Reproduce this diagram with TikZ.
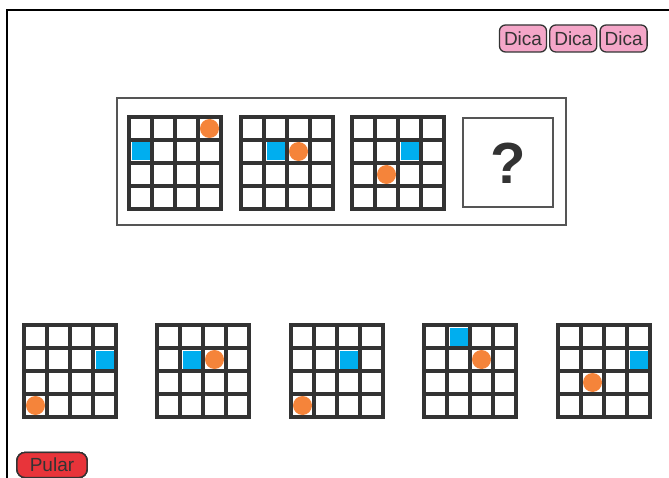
\documentclass[tikz,border=0pt]{standalone}
\usepackage{fontspec}
\setmainfont{Liberation Sans}
\usepackage{xcolor}
\usetikzlibrary{positioning}
\definecolor{gridgray}{HTML}{333333}
\definecolor{framegray}{HTML}{555555}
\definecolor{tileblue}{HTML}{00AEEF}
\definecolor{dotorange}{HTML}{F5843A}
\definecolor{hintpink}{HTML}{F4A6C8}
\definecolor{skipred}{HTML}{E8343A}
% grid: top-left x, y; blue row, col; orange row, col
\newcommand{\cellgrid}[6]{%
  \begin{scope}[shift={(#1,#2)}]
    \fill[tileblue] ({#4*23+2.5},{#3*23+2.5}) rectangle ++(18,18);
    \foreach \k in {1,2,3}
      \draw[gridgray, line width=3.6pt] (\k*23,0) -- (\k*23,92) (0,\k*23) -- (92,\k*23);
    \draw[gridgray, line width=3.6pt] (0,0) rectangle (92,92);
    \fill[dotorange] ({#6*23+11.5},{#5*23+11.5}) circle[radius=9.5pt];
  \end{scope}}

\begin{document}
\begin{tikzpicture}[x=1pt, y=-1pt,
    btn/.style={draw=gridgray, line width=1.3pt, rounded corners=6pt, inner sep=0pt,
      text=gridgray, font=\fontsize{19}{19}\selectfont}]
  \useasboundingbox (0,0) rectangle (669,478);
  \draw[line width=1.5pt] (7,478) -- (7,10) -- (669,10);
  % hints
  \node[btn, fill=hintpink, minimum width=47pt, minimum height=27pt] (dica1) at (523,38.5) {Dica};
  \node[btn, fill=hintpink, minimum width=47pt, minimum height=27pt, right=2pt of dica1] (dica2) {Dica};
  \node[btn, fill=hintpink, minimum width=47pt, minimum height=27pt, right=2pt of dica2] (dica3) {Dica};
  % sequence
  \draw[framegray, line width=2pt] (117,98) rectangle (566,225);
  \cellgrid{129}{117}{1}{0}{0}{3}
  \cellgrid{241}{117}{1}{1}{1}{2}
  \cellgrid{352}{117}{1}{2}{2}{1}
  \draw[framegray, line width=1.5pt] (463,118) rectangle (553,207);
  \node[text=gridgray, font=\fontsize{58}{58}\selectfont\bfseries] (ask) at (508,163) {?};
  % options
  \foreach \x/\brow/\bcol/\orow/\ocol in {24/1/3/3/0, 157/1/1/1/2, 291/1/2/3/0, 424/0/1/1/2, 558/1/3/2/1}
    \cellgrid{\x}{325}{\brow}{\bcol}{\orow}{\ocol}
  \node[btn, fill=skipred, minimum width=70pt, minimum height=25pt, rounded corners=8pt] (pular) at (52,465) {Pular};
\end{tikzpicture}
\end{document}
